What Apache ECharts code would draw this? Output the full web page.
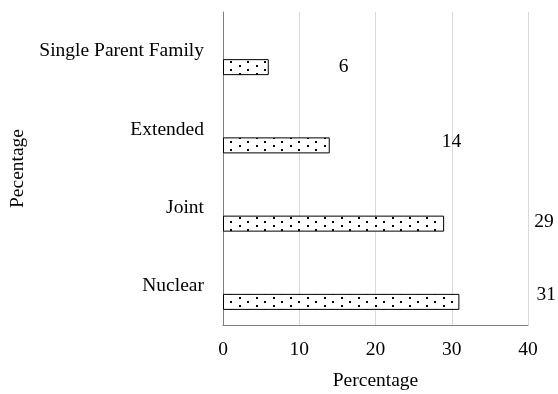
<!DOCTYPE html>
<html>
<head>
<meta charset="utf-8">
<script src="https://cdn.jsdelivr.net/npm/echarts@6/dist/echarts.min.js"></script>
<style>
  html, body { margin: 0; padding: 0; background: #fff; }
  #chart { width: 558px; height: 394px; }
</style>
</head>
<body>
<div id="chart"></div>
<script>
// Family type distribution (bottom to top on the category axis)
const categories = ['Nuclear', 'Joint', 'Extended', 'Single Parent Family'];
const percentages = [31, 29, 14, 6];
const xTicks = { min: 0, max: 40, interval: 10 };
const xTitle = 'Percentage';
const yTitle = 'Pecentage';

const FONT = "'Liberation Serif', 'Times New Roman', serif";

// Dotted fill for the bars: white tile with staggered black dots
function dotPattern() {
  const c = document.createElement('canvas');
  c.width = 17;
  c.height = 8;
  const g = c.getContext('2d');
  g.fillStyle = '#ffffff';
  g.fillRect(0, 0, c.width, c.height);
  g.fillStyle = '#000000';
  g.fillRect(1, 1, 2, 2);
  g.fillRect(9, 5, 2, 2);
  return c;
}

// Value labels sit out to the right of each bar
const labelNudge = [
  { distance: 77, dy: -7 },
  { distance: 90, dy: -2 },
  { distance: 112, dy: -4 },
  { distance: 70, dy: 0 }
];

const chart = echarts.init(document.getElementById('chart'), null, { renderer: 'canvas' });

chart.setOption({
  animation: false,
  backgroundColor: '#ffffff',
  textStyle: { fontFamily: FONT },
  grid: { left: 223, right: 30, top: 12, bottom: 69, containLabel: false, outerBoundsMode: 'none' },
  xAxis: {
    type: 'value',
    min: xTicks.min,
    max: xTicks.max,
    interval: xTicks.interval,
    name: xTitle,
    nameLocation: 'middle',
    nameGap: 46,
    nameTextStyle: { fontFamily: FONT, fontSize: 19.5, color: '#000' },
    axisLine: { show: true, lineStyle: { color: '#7f7f7f', width: 1 } },
    axisTick: { show: false },
    axisLabel: { fontFamily: FONT, fontSize: 19.5, color: '#000', margin: 15 },
    splitLine: { show: true, lineStyle: { color: '#d9d9d9', width: 1 } }
  },
  yAxis: {
    type: 'category',
    data: categories,
    name: yTitle,
    nameLocation: 'middle',
    nameGap: 195,
    nameTextStyle: { fontFamily: FONT, fontSize: 19.5, color: '#000' },
    axisLine: { show: true, lineStyle: { color: '#7f7f7f', width: 1 } },
    axisTick: { show: false },
    axisLabel: { fontFamily: FONT, fontSize: 19.5, color: '#000', margin: 19 },
    splitLine: { show: false }
  },
  series: [
    {
      // empty companion series keeps the drawn bars in the lower half of each band
      type: 'bar',
      barWidth: 16,
      barGap: '100%',
      data: categories.map(() => '-'),
      silent: true
    },
    {
      name: xTitle,
      type: 'bar',
      barWidth: 16,
      barGap: '100%',
      data: percentages.map((v, i) => ({
        value: v,
        label: {
          distance: labelNudge[i].distance,
          offset: [0, labelNudge[i].dy]
        }
      })),
      itemStyle: {
        color: { image: dotPattern(), repeat: 'repeat' },
        borderColor: '#000000',
        borderWidth: 1
      },
      label: {
        show: true,
        position: 'right',
        fontFamily: FONT,
        fontSize: 19.5,
        color: '#000'
      }
    }
  ]
});
</script>
</body>
</html>
